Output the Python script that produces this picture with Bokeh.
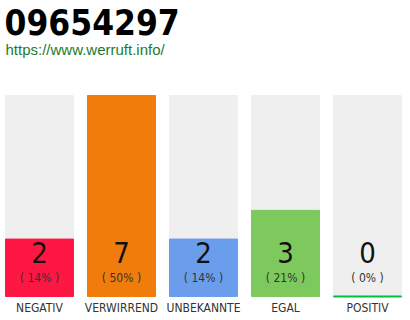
from bokeh.plotting import figure
from bokeh.models import Range1d, ColumnDataSource
from bokeh.core.properties import value
from bokeh.embed import file_html
from bokeh.resources import INLINE

# Rating summary for the phone number
title = "09654297"
url = "https://www.werruft.info/"
categories = ["NEGATIV", "VERWIRREND", "UNBEKANNTE", "EGAL", "POSITIV"]
counts = [2, 7, 2, 3, 0]
percents = [14, 50, 14, 21, 0]
colors = ["#FF1744", "#F07C0C", "#6A9EEC", "#7DC95E", "#00C040"]

xs = list(range(len(categories)))
top = max(counts)

src = ColumnDataSource(dict(
    x=xs,
    count=counts,
    label=[str(c) for c in counts],
    pct=["( %d%% )" % p for p in percents],
    cat=categories,
    color=colors,
    bg=[top] * len(xs),
))

X0, X1 = -0.4756, 4.5244
Y0, Y1 = -0.836, 10.31

p = figure(width=410, height=320, output_backend="svg", toolbar_location=None,
           x_range=Range1d(X0, X1), y_range=Range1d(Y0, Y1),
           min_border=0, outline_line_color=None)
p.axis.visible = False
p.grid.visible = False
p.background_fill_color = "white"
p.border_fill_color = "white"

bw = 68 / 82
p.vbar(x="x", top="bg", bottom=0, width=bw, source=src, color="#EFEFEF")
p.vbar(x="x", top="count", bottom=0, width=bw, source=src, color="color")

# a zero count is marked with a thin line at the base
zero_x = [x for x, c in zip(xs, counts) if c == 0]
zero_c = [col for col, c in zip(colors, counts) if c == 0]
p.segment(x0=[x - bw / 2 for x in zero_x], x1=[x + bw / 2 for x in zero_x],
          y0=[0] * len(zero_x), y1=[0] * len(zero_x), line_color=zero_c,
          line_width=2)

font = value("DejaVu Sans Condensed")
p.text(x="x", y=0, text="label", source=src, text_align="center",
       text_baseline="middle", y_offset=-44, text_font_size="29px",
       text_font=font, text_color="#111111")
p.text(x="x", y=0, text="pct", source=src, text_align="center",
       text_baseline="middle", y_offset=-18, text_font_size="12px",
       text_font=font, text_color="#333333")
p.text(x="x", y=0, text="cat", source=src, text_align="center",
       text_baseline="middle", y_offset=12, text_font_size="12px",
       text_font=font, text_color="#333333")

# header texts, anchored to the left edge of the first column
p.text(x=[X0], y=[Y1], text=[title], text_align="left",
       text_baseline="middle", x_offset=4, y_offset=21, text_font_size="35px",
       text_font=font, text_font_style="bold", text_color="#000000")
p.text(x=[X0], y=[Y1], text=[url], text_align="left",
       text_baseline="middle", x_offset=5, y_offset=49, text_font_size="15px",
       text_font=value("Liberation Sans"), text_color="#1E7A2E")

open("out.html", "w").write(file_html(p, INLINE))
